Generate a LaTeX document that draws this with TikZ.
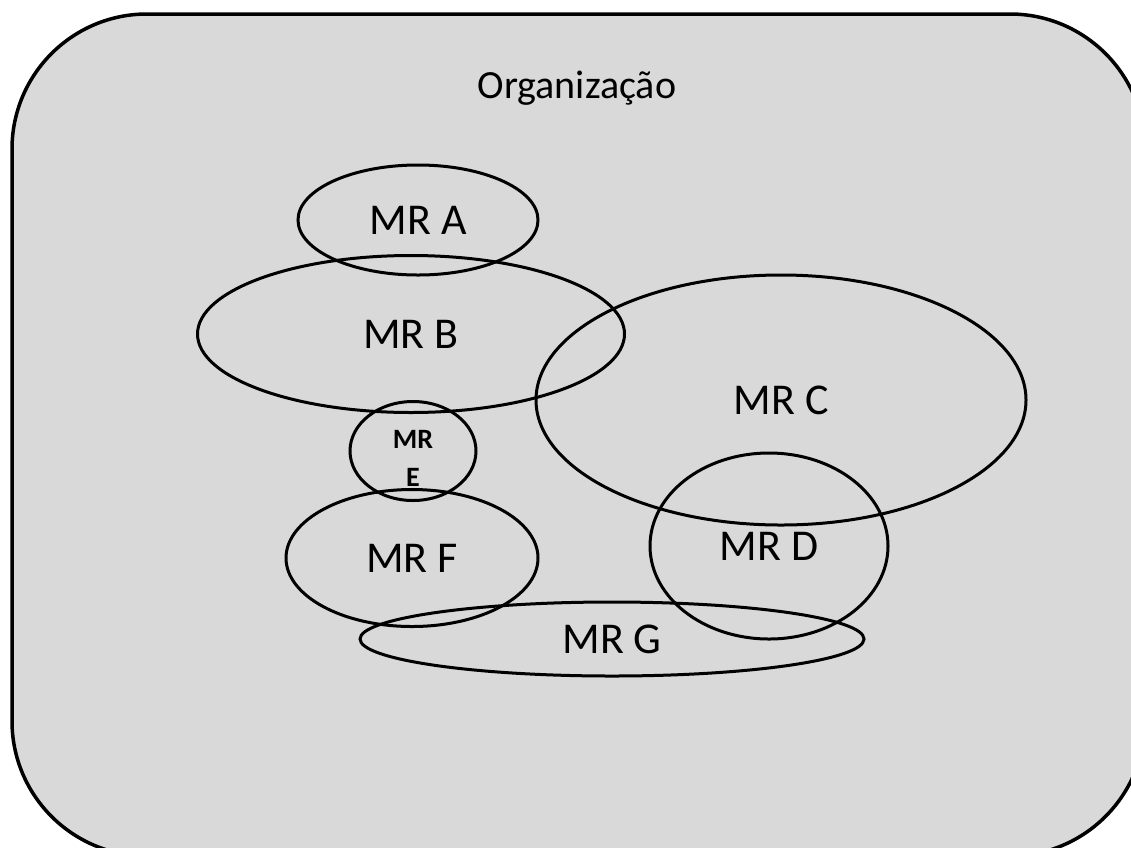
\documentclass[tikz,border=0pt]{standalone}
\usepackage{fontspec}
\setmainfont{Carlito}
\usetikzlibrary{shapes.geometric}
\definecolor{orgfill}{HTML}{D9D9D9}

\begin{document}
\begin{tikzpicture}[x=1pt, y=-1pt, mr node/.style={ellipse, draw, line width=3pt, inner sep=0pt, font=\fontsize{44}{52}\selectfont}]

			\useasboundingbox (0,0) rectangle (1131,847);

			% Organization frame
			\draw[line width=3.5pt, rounded corners=135pt, fill=orgfill] (12,14) rectangle (1145,856);
			\node[font=\fontsize{40}{48}\selectfont, anchor=base] (org) at (577,98) {Organização};

			% MR sets
			\node[mr node, minimum width=240pt, minimum height=110pt] (A) at (418,220) {MR A};
			\node[mr node, minimum width=427pt, minimum height=157pt] (B) at (411,334) {MR B};
			\node[mr node, minimum width=490pt, minimum height=250pt] (C) at (781,400) {MR C};
			\node[mr node, minimum width=238pt, minimum height=186pt] (D) at (769,546) {MR D};
			\node[mr node, minimum width=126pt, minimum height=98pt, align=center, font=\bfseries\fontsize{28}{38}\selectfont] (E) at (413,451) {\rule{0pt}{32pt}MR\\E};
			\node[mr node, minimum width=252pt, minimum height=137pt] (F) at (412,558) {MR F};
			\node[mr node, minimum width=504pt, minimum height=74pt] (G) at (612,639) {MR G};

		\end{tikzpicture}
\end{document}
